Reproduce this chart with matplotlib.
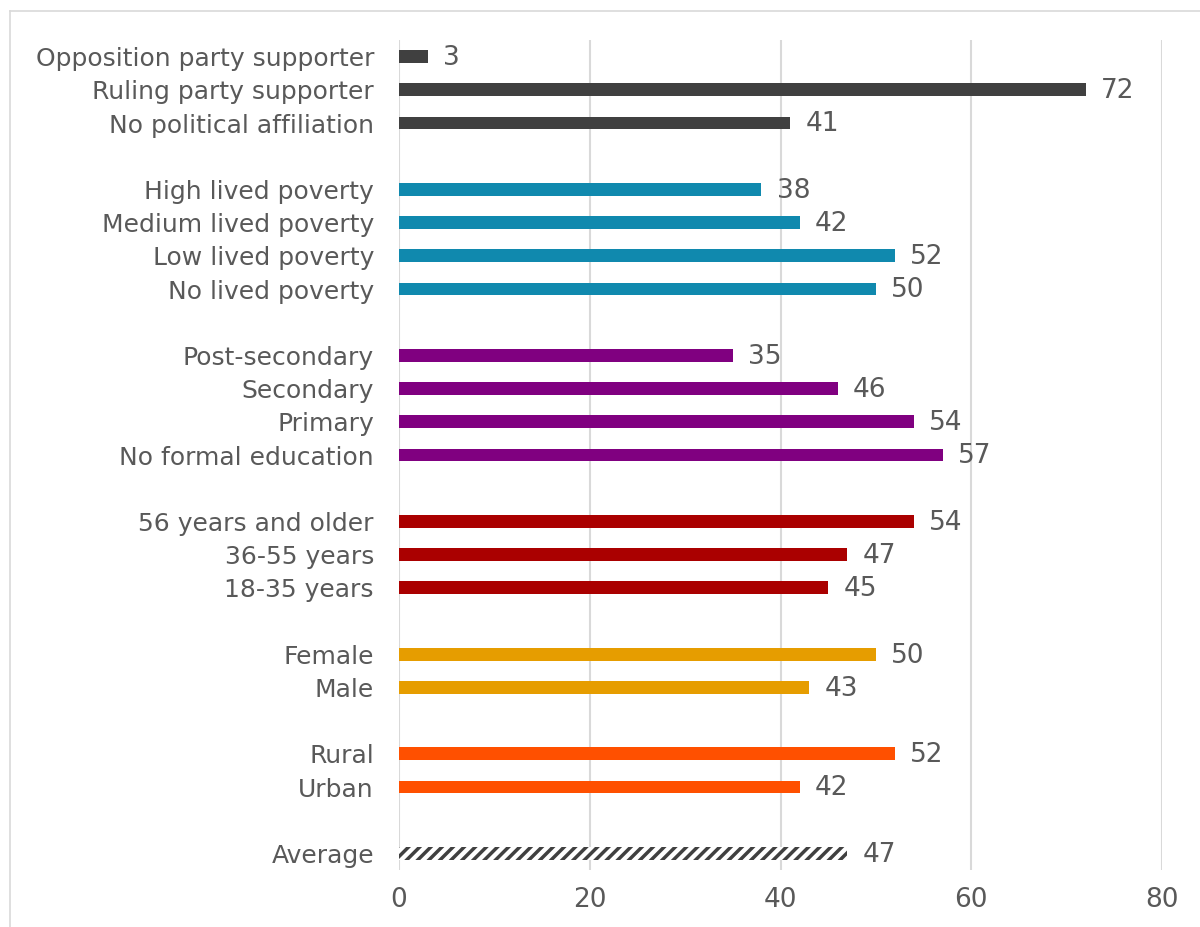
import matplotlib.pyplot as plt
from matplotlib.lines import Line2D

# groups listed top to bottom, each with its bar colour
groups = [
    ["Opposition party supporter", "Ruling party supporter", "No political affiliation"],
    ["High lived poverty", "Medium lived poverty", "Low lived poverty", "No lived poverty"],
    ["Post-secondary", "Secondary", "Primary", "No formal education"],
    ["56 years and older", "36-55 years", "18-35 years"],
    ["Female", "Male"],
    ["Rural", "Urban"],
    ["Average"],
]
values = [
    [3, 72, 41],
    [38, 42, 52, 50],
    [35, 46, 54, 57],
    [54, 47, 45],
    [50, 43],
    [52, 42],
    [47],
]
colors = ["#404040", "#1089AE", "#800080", "#AA0000", "#E69D00", "#FF5000", "#404040"]

plt.rcParams["font.family"] = "DejaVu Sans"
plt.rcParams["hatch.linewidth"] = 2.5
grey = "#595959"

fig = plt.figure(figsize=(12, 9.27), dpi=100)
ax = fig.add_axes([399 / 1200, 1 - 870 / 927, (1162 - 399) / 1200, (870 - 40) / 927])

pos = 0
yticks = []
ylabels = []
for gi, (names, vals) in enumerate(zip(groups, values)):
    for name, v in zip(names, vals):
        if name == "Average":
            ax.barh(pos, v, height=0.38, color="white", edgecolor=colors[gi],
                    hatch="///", linewidth=0)
        else:
            ax.barh(pos, v, height=0.38, color=colors[gi])
        ax.annotate(str(v), (v, pos), xytext=(11, -1), textcoords="offset points",
                    va="center", ha="left", fontsize=19, color=grey)
        yticks.append(pos)
        ylabels.append(name)
        pos += 1
    pos += 1

ax.set_ylim(pos - 1.5, -0.5)
ax.set_xlim(0, 80)
ax.set_xticks([0, 20, 40, 60, 80])
ax.set_yticks(yticks)
ax.set_yticklabels(ylabels)
ax.tick_params(axis="both", length=0, labelcolor=grey)
ax.tick_params(axis="y", pad=18, labelsize=18)
ax.tick_params(axis="x", pad=12, labelsize=19)
ax.grid(axis="x", color="#D9D9D9", linewidth=1.5)
ax.set_axisbelow(True)
for s in ax.spines.values():
    s.set_visible(False)

# outer chart frame
fig.add_artist(Line2D([10 / 1200, 1], [1 - 11 / 927, 1 - 11 / 927], color="#D9D9D9", linewidth=1.2))
fig.add_artist(Line2D([10 / 1200, 10 / 1200], [0, 1 - 11 / 927], color="#D9D9D9", linewidth=1.2))

fig.savefig("out.png", dpi=100, facecolor="white")
